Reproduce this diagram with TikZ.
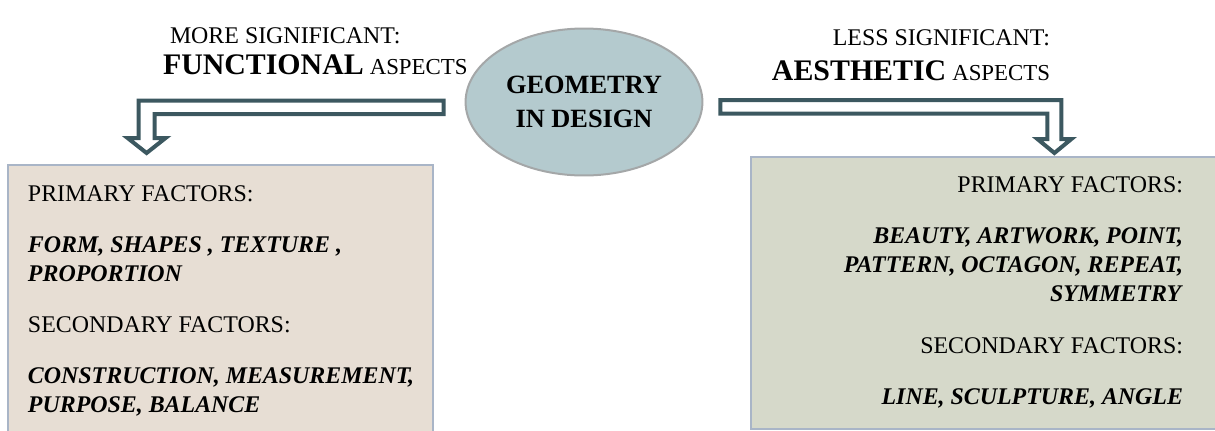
\documentclass[tikz,border=0pt]{standalone}
\usepackage{fontspec}
\setmainfont{Liberation Serif}
\usetikzlibrary{positioning,shapes.geometric}

\definecolor{slate}{HTML}{3C5860}
\definecolor{geofill}{HTML}{B4CACE}
\definecolor{geoline}{HTML}{A4A7A8}
\definecolor{boxline}{HTML}{A9B5C7}
\definecolor{funcfill}{HTML}{E7DED4}
\definecolor{aesfill}{HTML}{D6D9CA}

\tikzset{
  hollow/.style={draw=slate, fill=white, line width=0.08cm, line join=miter},
  factorbox/.style={draw=boxline, line width=0.04cm, anchor=north west, inner sep=0pt},
  facts/.style={inner sep=0pt, outer sep=0pt, font=\fontsize{13.6}{16.5}\selectfont},
  head/.style={inner sep=0pt, outer sep=0pt, font=\fontsize{13.6}{16.5}\selectfont},
}
\newcommand{\bigword}[1]{{\fontsize{17}{20}\selectfont\bfseries #1}}
\newcommand{\asp}[1]{{\fontsize{13}{15}\selectfont #1}}

\begin{document}
\begin{tikzpicture}[x=0.02cm, y=-0.02cm]

\useasboundingbox (0,0) rectangle (1215,430);

% the two boxes of factors
\node[factorbox, fill=funcfill, minimum width=8.5cm, minimum height=6cm] (funcbox) at (7,164) {};
\node[factorbox, fill=aesfill, minimum width=10cm, minimum height=5.44cm] (aesbox) at (750,156) {};

% centre
\node[ellipse, draw=geoline, line width=0.04cm, fill=geofill, minimum width=4.44cm, minimum height=2.94cm,
      align=center, font=\fontsize{15}{19.5}\selectfont\bfseries] (geo) at (584,102) {GEOMETRY\\IN DESIGN};

% headings
\node[head, anchor=base west] (more) at (170,43) {MORE SIGNIFICANT:};
\node[head, anchor=base west] (func) at (163,74) {\bigword{FUNCTIONAL} \asp{ASPECTS}};
\node[head, anchor=base east] (less) at (1050,45) {LESS SIGNIFICANT:};
\node[head, anchor=base east] (aes) at (1050,80) {\bigword{AESTHETIC} \asp{ASPECTS}};

% hollow bent arrows
\draw[hollow] (geo.west) ++(-21,-1.5) -- ++(-305,0) -- ++(0,37.5) -- ++(-11,0) -- ++(19,15)
  -- ++(19,-15) -- ++(-11,0) -- ++(0,-24) -- ++(289,0) -- cycle;
\draw[hollow] (geo.east) ++(17,-2) -- ++(341,0) -- ++(0,39) -- ++(10,0) -- ++(-17,14)
  -- ++(-17,-14) -- ++(10,0) -- ++(0,-25.5) -- ++(-327,0) -- cycle;

% texts
\node[facts, align=left, below right=0.44cm and 0.42cm of funcbox.north west] (functext) {%
  PRIMARY FACTORS:\\[12.5pt]
  \textbf{\textit{FORM, SHAPES , TEXTURE ,}}\\
  \textbf{\textit{PROPORTION}}\\[12.5pt]
  SECONDARY FACTORS:\\[12.5pt]
  \textbf{\textit{CONSTRUCTION, MEASUREMENT,}}\\
  \textbf{\textit{PURPOSE, BALANCE}}};

\node[facts, align=right, anchor=north east] (aestext) at (1183,177) {%
  PRIMARY FACTORS:\\[12.5pt]
  \textbf{\textit{BEAUTY, ARTWORK, POINT,}}\\
  \textbf{\textit{PATTERN, OCTAGON, REPEAT,}}\\
  \textbf{\textit{SYMMETRY}}\\[13pt]
  SECONDARY FACTORS:\\[12.5pt]
  \textbf{\textit{LINE, SCULPTURE, ANGLE}}};

\end{tikzpicture}
\end{document}
